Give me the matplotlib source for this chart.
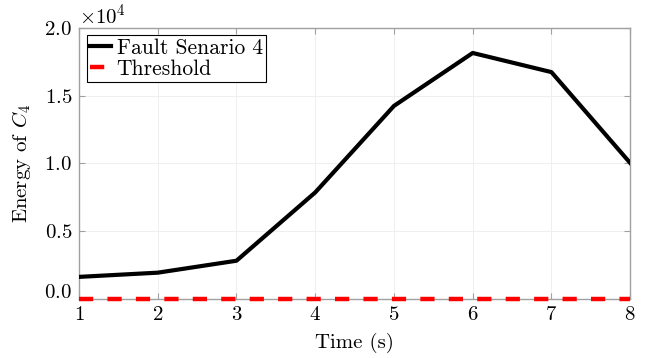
import matplotlib
matplotlib.use("Agg")
import matplotlib.pyplot as plt
import matplotlib.transforms as mtransforms
from matplotlib.ticker import ScalarFormatter

plt.rcParams.update({
    "font.family": "serif",
    "font.serif": ["cmr10"],
    "mathtext.fontset": "cm",
    "axes.formatter.use_mathtext": True,
    "font.size": 15,
})

time_s = [1, 2, 3, 4, 5, 6, 7, 8]
energy_c4 = [1650, 1960, 2840, 7870, 14240, 18140, 16730, 10040]
threshold = [0, 0, 0, 0, 0, 0, 0, 0]

fig = plt.figure(figsize=(6.45, 3.58), dpi=100)
ax = fig.add_axes([0.1225, 0.164, 0.8545, 0.7586])

ax.plot(time_s, energy_c4, color="black", lw=3, label="Fault Senario 4", zorder=3)
ax.plot(time_s, threshold, color="red", lw=3.2, dashes=(3.2, 3.2),
        label="Threshold", clip_on=False, zorder=4)

ax.set_xlim(1, 8)
ax.set_ylim(0, 20000)
ax.set_xticks(time_s)
ax.set_yticks([0, 5000, 10000, 15000, 20000])

fmt = ScalarFormatter(useMathText=True)
fmt.set_powerlimits((0, 0))
ax.yaxis.set_major_formatter(fmt)
ax.yaxis.get_offset_text().set_fontsize(15)

ax.grid(True, color="#efefef", lw=0.7)
for s in ax.spines.values():
    s.set_color("#a0a0a0")
    s.set_linewidth(1)
ax.tick_params(direction="in", length=4, color="#a0a0a0", top=True, right=True,
               labelsize=15, pad=5)

ax.set_xlabel("Time (s)", fontsize=15, labelpad=6)
ax.set_ylabel("Energy of $C_4$", fontsize=15, labelpad=8)

leg = ax.legend(loc="upper left", fontsize=15.5, handlelength=1.0, handletextpad=0.25,
                borderpad=0.15, labelspacing=0.05, fancybox=False, framealpha=1,
                borderaxespad=0.35)
leg.get_frame().set_edgecolor("black")
leg.get_frame().set_linewidth(0.8)

# the 0.0 label sits a little above its tick in the reference
fig.canvas.draw()
zero_tick = ax.yaxis.get_major_ticks()[0]
lbl = zero_tick.label1
lbl.set_transform(lbl.get_transform() + mtransforms.ScaledTranslation(0, 8 / 100, fig.dpi_scale_trans))

fig.savefig("out.png", dpi=100)
